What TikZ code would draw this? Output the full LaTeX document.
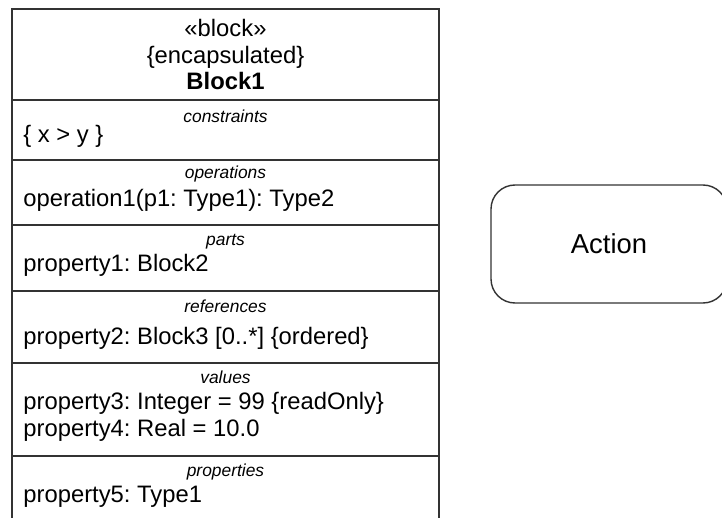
\documentclass[tikz,border=0pt]{standalone}
\usepackage{fontspec}
\setmainfont{Liberation Sans}

\begin{document}
\frenchspacing
\begin{tikzpicture}[x=0.5pt,y=-0.5pt,
every node/.style={inner sep=0pt,anchor=base,font=\fontsize{11.9}{14}\selectfont},
keyword/.style={font=\fontsize{8.7}{10}\selectfont\itshape},
entry/.style={anchor=base west},
frame/.style={draw=black!80,line width=0.7pt}]
\useasboundingbox (0,0) rectangle (722,518);
\clip (0,0) rectangle (722,518);
\draw[frame] (12,9) rectangle (439,540);
\draw[frame,line width=1.4pt] (439,9) -- (439,540);
\foreach \y in {100,160,225,291,363,456}
  \draw[frame] (12,\y) -- (439,\y);
\node (S) at (225.5,37) {«block»};
\node (E) at (225.5,63.5) {\{encapsulated\}};
\node (B) at (225.5,90) {\bfseries Block1};
\node[keyword] (K1) at (225.5,123) {constraints};
\node[entry] (C1) at (23,143) {\{ x > y \}};
\node[keyword] (K2) at (225.5,179) {operations};
\node[entry] (O1) at (23,206.5) {operation1(p1: Type1): Type2};
\node[keyword] (K3) at (225.5,246) {parts};
\node[entry] (P1) at (23,271.5) {property1: Block2};
\node[keyword] (K4) at (225.5,312.5) {references};
\node[entry] (R1) at (23,344) {property2: Block3 [0..*] \{ordered\}};
\node[keyword] (K5) at (225.5,383) {values};
\node[entry] (V1) at (23,409) {property3: Integer = 99 \{readOnly\}};
\node[entry] (V2) at (23,436.5) {property4: Real = 10.0};
\node[keyword] (K6) at (225.5,476) {properties};
\node[entry] (Q1) at (23,502.5) {property5: Type1};
\node[frame,anchor=center,rounded corners=12pt,minimum width=118pt,minimum height=59pt,font=\fontsize{13.7}{16}\selectfont] (action) at (609,244) {Action};
\end{tikzpicture}
\end{document}
